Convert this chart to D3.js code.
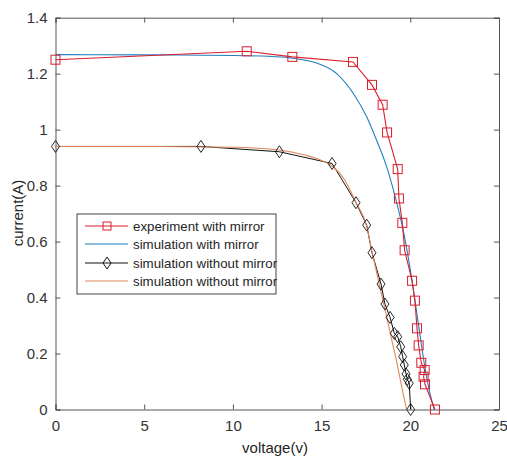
<!DOCTYPE html>
<html>
<head>
<meta charset="utf-8">
<script src="https://cdn.jsdelivr.net/npm/d3@7"></script>
<style>
  body { margin: 0; background: #fff; }
  svg text { font-family: Arial, "Liberation Sans", Helvetica, sans-serif; fill: #262626; }
</style>
</head>
<body>
<div id="chart"></div>
<script>
// values
var expV = [0, 10.78, 13.35, 16.77, 17.84, 18.44, 18.69, 19.29, 19.36, 19.55, 19.68, 20.1, 20.26, 20.38, 20.47, 20.62, 20.81, 20.75, 20.83, 21.39];
var expI = [1.25, 1.28, 1.26, 1.242, 1.16, 1.089, 0.99, 0.859, 0.754, 0.667, 0.569, 0.46, 0.389, 0.29, 0.229, 0.167, 0.141, 0.117, 0.09, 0];

var simV = [0, 5, 10, 12, 13.35, 14.7, 15.85, 16.79, 17.54, 18.1, 18.67, 19.17, 19.6, 20.0, 20.4, 20.8, 21.1, 21.35];
var simI = [1.268, 1.267, 1.265, 1.262, 1.255, 1.238, 1.2, 1.129, 1.046, 0.962, 0.867, 0.755, 0.64, 0.5, 0.33, 0.16, 0.06, 0];

var noV = [0, 8.2, 12.62, 15.59, 16.94, 17.54, 17.84, 18.35, 18.57, 18.86, 19.1, 19.29, 19.46, 19.57, 19.66, 19.76, 19.83, 19.94, 20.02];
var noI = [0.94, 0.94, 0.921, 0.879, 0.739, 0.659, 0.56, 0.448, 0.377, 0.329, 0.272, 0.26, 0.224, 0.189, 0.159, 0.127, 0.108, 0.094, 0];

var noSimV = [0, 5, 10, 12.6, 14, 15, 15.6, 16.3, 16.94, 17.54, 17.84, 18.24, 18.6, 18.95, 19.3, 19.55, 19.79];
var noSimI = [0.94, 0.94, 0.937, 0.927, 0.91, 0.89, 0.87, 0.82, 0.74, 0.655, 0.565, 0.45, 0.35, 0.25, 0.15, 0.07, 0];

var xTicks = [0, 5, 10, 15, 20, 25];
var yTicks = [0, 0.2, 0.4, 0.6, 0.8, 1, 1.2, 1.4];

var legendLabels = ["experiment with mirror", "simulation with mirror", "simulation without mirror", "simulation without mirror"];
var colors = ["#d91f2d", "#1f7fc0", "#111111", "#e0885a"];

var W = 507, H = 457;
var margin = {top: 17.7, right: 8, bottom: 47.5, left: 55.5},
    width = W - margin.left - margin.right,
    height = H - margin.top - margin.bottom;

var svg = d3.select("#chart").append("svg")
    .attr("width", W)
    .attr("height", H);

var g = svg.append("g")
    .attr("transform", "translate(" + margin.left + "," + margin.top + ")");

var x = d3.scaleLinear().domain([0, 25]).range([0, width]);
var y = d3.scaleLinear().domain([0, 1.4]).range([height, 0]);

function zip(a, b) { return a.map(function(v, i) { return [v, b[i]]; }); }

var axisColor = "#555";

// axes with inward ticks, MATLAB box
var fmt = function(d) { return d3.format("~g")(d); };
var xAxis = g.append("g").attr("transform", "translate(0," + height + ")")
    .call(d3.axisBottom(x).tickValues(xTicks).tickSize(-5).tickPadding(11).tickFormat(fmt));
var yAxis = g.append("g")
    .call(d3.axisLeft(y).tickValues(yTicks).tickSize(-5).tickPadding(8).tickFormat(fmt));
g.append("g").call(d3.axisTop(x).tickValues(xTicks).tickSize(-5).tickFormat(""));
g.append("g").attr("transform", "translate(" + width + ",0)")
    .call(d3.axisRight(y).tickValues(yTicks).tickSize(-5).tickFormat(""));

g.selectAll(".domain").attr("stroke", axisColor);
g.selectAll(".tick line").attr("stroke", axisColor);
g.selectAll(".tick text").attr("font-size", 15).style("fill", "#333")
    .attr("font-family", "Arial, 'Liberation Sans', sans-serif");

// lines
var line = d3.line().x(function(d) { return x(d[0]); }).y(function(d) { return y(d[1]); });
var smooth = d3.line().curve(d3.curveMonotoneX)
    .x(function(d) { return x(d[0]); }).y(function(d) { return y(d[1]); });

var plot = g.append("g");

plot.append("path").datum(zip(simV, simI))
    .attr("d", smooth).attr("fill", "none").attr("stroke", colors[1]).attr("stroke-width", 1.1);
plot.append("path").datum(zip(expV, expI))
    .attr("d", line).attr("fill", "none").attr("stroke", colors[0]).attr("stroke-width", 1.1);
plot.selectAll(".sq").data(zip(expV, expI)).enter().append("rect")
    .attr("x", function(d) { return x(d[0]) - 4.5; })
    .attr("y", function(d) { return y(d[1]) - 4.5; })
    .attr("width", 9).attr("height", 9)
    .attr("fill", "none").attr("stroke", colors[0]).attr("stroke-width", 1);

plot.append("path").datum(zip(noV, noI))
    .attr("d", line).attr("fill", "none").attr("stroke", colors[2]).attr("stroke-width", 1);
plot.append("path").datum(zip(noSimV, noSimI))
    .attr("d", smooth).attr("fill", "none").attr("stroke", colors[3]).attr("stroke-width", 1.1);

function diamond(cx, cy) {
  return "M" + cx + "," + (cy - 6) + "L" + (cx + 4) + "," + cy + "L" + cx + "," + (cy + 6) + "L" + (cx - 4) + "," + cy + "Z";
}
plot.selectAll(".dm").data(zip(noV, noI)).enter().append("path")
    .attr("d", function(d) { return diamond(x(d[0]), y(d[1])); })
    .attr("fill", "none").attr("stroke", colors[2]).attr("stroke-width", 0.9);

// legend
var lg = svg.append("g").attr("transform", "translate(77,214)");
lg.append("rect").attr("width", 199).attr("height", 80)
    .attr("fill", "#fff").attr("stroke", "#444").attr("stroke-width", 1);
var rowY = [12, 30, 49, 67];
legendLabels.forEach(function(lab, i) {
  var r = lg.append("g").attr("transform", "translate(0," + rowY[i] + ")");
  r.append("line").attr("x1", 8).attr("x2", 51).attr("y1", 0).attr("y2", 0)
      .attr("stroke", colors[i]).attr("stroke-width", 1.1);
  if (i === 0) {
    r.append("rect").attr("x", 26).attr("y", -4).attr("width", 8).attr("height", 8)
        .attr("fill", "none").attr("stroke", colors[0]);
  }
  if (i === 2) {
    r.append("path").attr("d", diamond(30, 0)).attr("fill", "none").attr("stroke", colors[2]);
  }
  r.append("text").attr("x", 56).attr("y", 0).attr("dy", "0.35em")
      .attr("font-size", 13.3).text(lab);
});

// axis labels
svg.append("text").attr("x", 275).attr("y", 453).attr("text-anchor", "middle")
    .attr("font-size", 15).text("voltage(v)");
svg.append("text").attr("transform", "translate(23,213) rotate(-90)")
    .attr("text-anchor", "middle").attr("font-size", 15).text("current(A)");
</script>
</body>
</html>
